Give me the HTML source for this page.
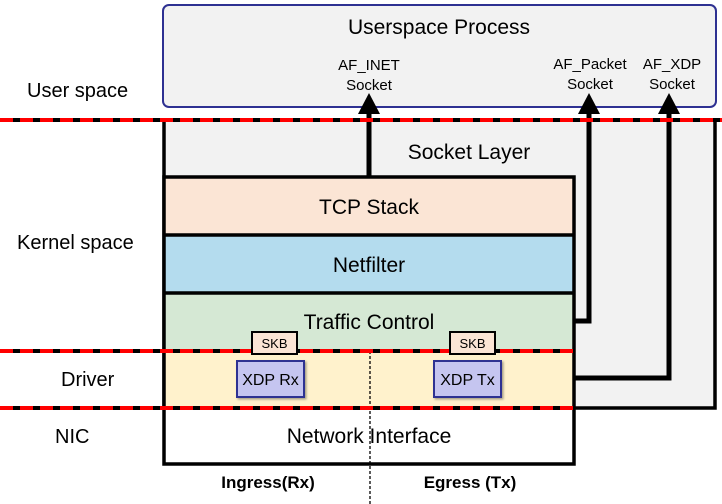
<!DOCTYPE html>
<html><head><meta charset="utf-8"><style>body{margin:0;background:#fff}svg{display:block}text{font-family:"Liberation Sans",Arial,sans-serif}</style></head><body>
<svg width="722" height="504" viewBox="0 0 722 504" xmlns="http://www.w3.org/2000/svg">
<defs><filter id="sh" x="-10%" y="-10%" width="130%" height="130%"><feDropShadow dx="1.5" dy="1.5" stdDeviation="1" flood-opacity="0.35"/></filter></defs>
<rect x="163" y="5" width="553" height="102" rx="6" fill="#f2f2f2" stroke="#2e3192" stroke-width="2"/>
<text x="439" y="34" font-size="21" text-anchor="middle">Userspace Process</text>
<text x="369" y="70" font-size="15" text-anchor="middle">AF_INET</text>
<text x="369" y="90" font-size="15" text-anchor="middle">Socket</text>
<text x="590" y="69" font-size="15" text-anchor="middle">AF_Packet</text>
<text x="590" y="89" font-size="15" text-anchor="middle">Socket</text>
<text x="672" y="69" font-size="15" text-anchor="middle">AF_XDP</text>
<text x="672" y="89" font-size="15" text-anchor="middle">Socket</text>
<rect x="164" y="120" width="551" height="288" fill="#f2f2f2" stroke="#000" stroke-width="3.5"/>
<text x="469" y="159" font-size="21" text-anchor="middle">Socket Layer</text>
<rect x="164" y="177" width="410" height="58" fill="#fbe5d5"/>
<rect x="164" y="235" width="410" height="58" fill="#b4dcee"/>
<rect x="164" y="293" width="410" height="58" fill="#d5e8d4"/>
<rect x="164" y="351" width="410" height="57" fill="#fff2cc"/>
<rect x="164" y="408" width="410" height="56" fill="#fff"/>
<g stroke="#000" stroke-width="3.5" fill="none">
<rect x="164" y="177" width="410" height="287"/>
<line x1="164" y1="235" x2="574" y2="235"/><line x1="164" y1="293" x2="574" y2="293"/>
</g>
<g stroke="#000" stroke-width="5" fill="none">
<polyline points="369,177 369,110"/>
<polyline points="574,321 589,321 589,110"/>
<polyline points="574,378 669,378 669,110"/>
</g>
<g fill="#000"><polygon points="369,93 358,114 380,114"/><polygon points="589,93 578,114 600,114"/><polygon points="669,93 658,114 680,114"/></g>
<text x="369" y="214" font-size="21" text-anchor="middle">TCP Stack</text>
<text x="369" y="272" font-size="21" text-anchor="middle">Netfilter</text>
<text x="369" y="329" font-size="21" text-anchor="middle">Traffic Control</text>
<text x="369" y="443" font-size="21" text-anchor="middle">Network Interface</text>
<line x1="370" y1="351" x2="370" y2="504" stroke="#000" stroke-width="1.3" stroke-dasharray="3,2"/>
<g stroke-width="4">
<line x1="0" y1="120" x2="722" y2="120" stroke="#000"/><line x1="0" y1="120" x2="722" y2="120" stroke="#f00" stroke-dasharray="13,7"/>
<line x1="0" y1="351" x2="574" y2="351" stroke="#000"/><line x1="0" y1="351" x2="574" y2="351" stroke="#f00" stroke-dasharray="13,7"/>
<line x1="0" y1="408" x2="574" y2="408" stroke="#000"/><line x1="0" y1="408" x2="574" y2="408" stroke="#f00" stroke-dasharray="13,7"/>
</g>
<rect x="252" y="332" width="45" height="22" fill="#fbe5d5" stroke="#000" stroke-width="2"/>
<text x="274.5" y="348" font-size="13" text-anchor="middle">SKB</text>
<rect x="450" y="332" width="45" height="22" fill="#fbe5d5" stroke="#000" stroke-width="2"/>
<text x="472.5" y="348" font-size="13" text-anchor="middle">SKB</text>
<rect x="237" y="361" width="67" height="36" fill="#c5c5f0" stroke="#2e3192" stroke-width="2" filter="url(#sh)"/>
<text x="270.5" y="385" font-size="16" text-anchor="middle">XDP Rx</text>
<rect x="434" y="361" width="67" height="36" fill="#c5c5f0" stroke="#2e3192" stroke-width="2" filter="url(#sh)"/>
<text x="467.5" y="385" font-size="16" text-anchor="middle">XDP Tx</text>
<text x="27" y="97" font-size="20">User space</text>
<text x="17" y="249" font-size="20">Kernel space</text>
<text x="61" y="386" font-size="20">Driver</text>
<text x="55" y="443" font-size="20">NIC</text>
<text x="268" y="488" font-size="17" font-weight="bold" text-anchor="middle">Ingress(Rx)</text>
<text x="470" y="488" font-size="17" font-weight="bold" text-anchor="middle">Egress (Tx)</text>
</svg>
</body></html>
